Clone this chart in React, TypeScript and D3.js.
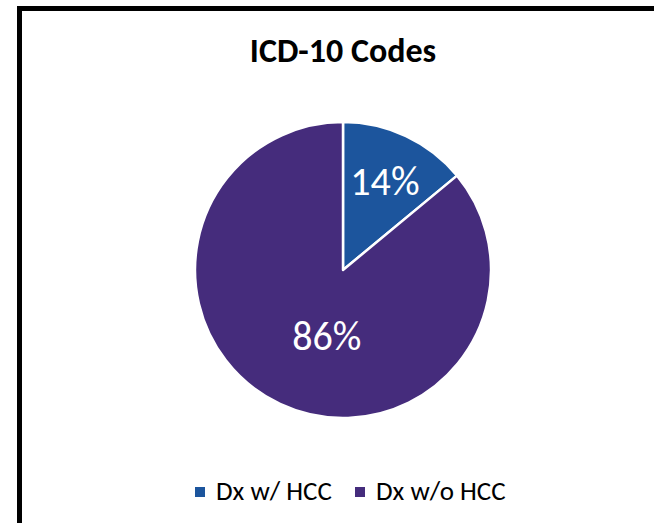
import { useEffect, useRef } from "react";
import * as d3 from "d3";

const categories = ["Dx w/ HCC", "Dx w/o HCC"];
const shares = [14, 86];
const colors = ["#1C559D", "#452C7C"];
const title = "ICD-10 Codes";

const W = 654;
const H = 523;
const FONT = "Carlito, Calibri, 'Open Sans', sans-serif";

type Slice = { name: string; value: number; color: string };

export default function App() {
  const svgRef = useRef<SVGSVGElement>(null);

  useEffect(() => {
    if (!svgRef.current) return;
    const svg = d3.select(svgRef.current);
    svg.selectAll("*").remove();

    // frame, running off the right and bottom edges
    svg.append("rect")
      .attr("x", 19.5)
      .attr("y", 8.5)
      .attr("width", 700)
      .attr("height", 600)
      .attr("fill", "#fff")
      .attr("stroke", "#000")
      .attr("stroke-width", 5);

    svg.append("text")
      .attr("x", 343)
      .attr("y", 62)
      .attr("text-anchor", "middle")
      .attr("font-family", FONT)
      .attr("font-weight", "bold")
      .attr("font-size", 34)
      .text(title);

    const cx = 343, cy = 270, r = 148;
    const data: Slice[] = categories.map((c, i) => ({ name: c, value: shares[i], color: colors[i] }));
    const pie = d3.pie<Slice>().value(d => d.value).sort(null);
    const arc = d3.arc<d3.PieArcDatum<Slice>>().innerRadius(0).outerRadius(r);

    const g = svg.append("g").attr("transform", `translate(${cx},${cy})`);
    const arcs = pie(data);
    g.selectAll("path")
      .data(arcs)
      .join("path")
      .attr("d", arc)
      .attr("fill", d => d.data.color)
      .attr("stroke", "#fff")
      .attr("stroke-width", 2.5)
      .attr("stroke-linejoin", "round");

    // label placement: radius fraction and angle nudge per slice
    const labelR = [0.665, 0.46];
    const labelNudge = [0, -0.2];
    g.selectAll("text")
      .data(arcs)
      .join("text")
      .attr("transform", (d, i) => {
        const a = (d.startAngle + d.endAngle) / 2 + labelNudge[i];
        const rr = r * labelR[i];
        return `translate(${rr * Math.sin(a)},${-rr * Math.cos(a)})`;
      })
      .attr("text-anchor", "middle")
      .attr("dy", "0.35em")
      .attr("fill", "#fff")
      .attr("font-family", FONT)
      .attr("font-size", 40)
      .text(d => `${d.data.value}%`);

    // legend
    const legendX = [195, 355];
    const lg = svg.append("g");
    data.forEach((d, i) => {
      lg.append("rect")
        .attr("x", legendX[i])
        .attr("y", 487)
        .attr("width", 10)
        .attr("height", 10)
        .attr("fill", d.color);
      lg.append("text")
        .attr("x", legendX[i] + 21)
        .attr("y", 500)
        .attr("font-family", FONT)
        .attr("font-size", 27)
        .attr("fill", "#000")
        .text(d.name);
    });
  }, []);

  return (
    <svg
      ref={svgRef}
      width={W}
      height={H}
      style={{ position: "absolute", left: 0, top: 0, display: "block" }}
    />
  );
}
